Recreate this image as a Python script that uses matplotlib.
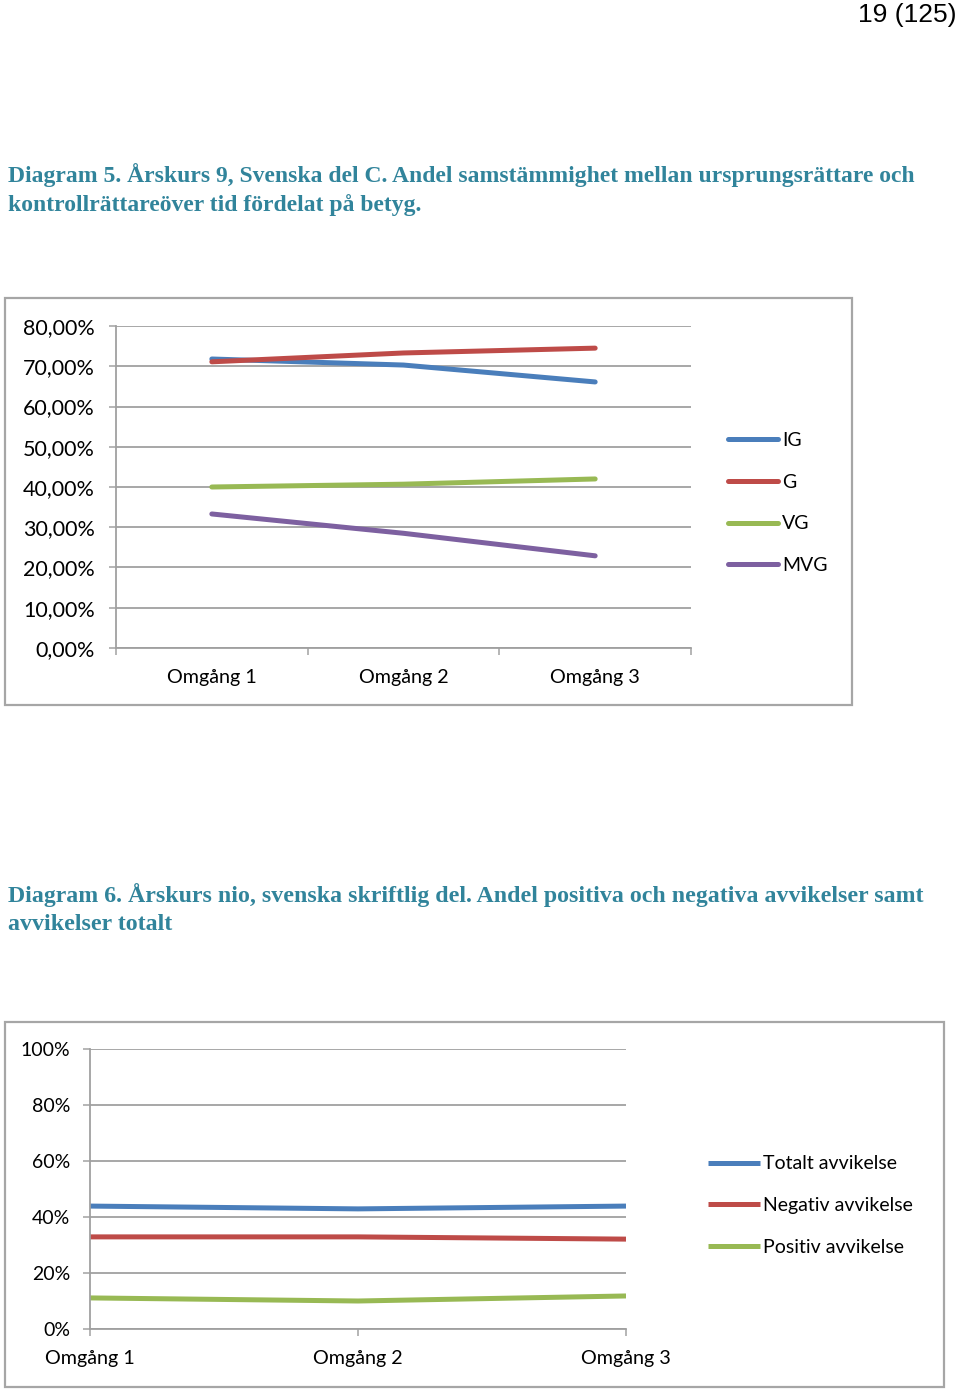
import matplotlib
matplotlib.use("Agg")
import matplotlib.pyplot as plt
from matplotlib.patches import Rectangle
from matplotlib.ticker import FuncFormatter, FixedLocator

# ---------------- data ----------------
rounds = ["Omgång 1", "Omgång 2", "Omgång 3"]

grades = ["IG", "G", "VG", "MVG"]
ig = [0.718, 0.703, 0.661]
g = [0.711, 0.733, 0.745]
vg = [0.400, 0.407, 0.420]
mvg = [0.333, 0.285, 0.229]

dev_labels = ["Totalt avvikelse", "Negativ avvikelse", "Positiv avvikelse"]
totalt = [0.439, 0.429, 0.439]
negativ = [0.329, 0.329, 0.321]
positiv = [0.111, 0.100, 0.118]

y1_ticks = [0.0, 0.1, 0.2, 0.3, 0.4, 0.5, 0.6, 0.7, 0.8]
y2_ticks = [0.0, 0.2, 0.4, 0.6, 0.8, 1.0]

title5 = ["Diagram 5. Årskurs 9, Svenska del C. Andel samstämmighet mellan ursprungsrättare och",
          "kontrollrättareöver tid fördelat på betyg."]
title6 = ["Diagram 6. Årskurs nio, svenska skriftlig del. Andel positiva och negativa avvikelser samt",
          "avvikelser totalt"]
page_no = "19 (125)"

# ---------------- style ----------------
W, H = 960, 1392
DPI = 100
PX = 72.0 / DPI  # points per pixel

plt.rcParams['font.family'] = ['Lato', 'DejaVu Sans']
colors4 = ["#4A7EBB", "#BE4B48", "#98B954", "#7D60A0"]
colors3 = ["#4A7EBB", "#BE4B48", "#98B954"]
grid_c = "#A0A0A0"
title_c = "#31849B"
lw = 5 * PX

fig = plt.figure(figsize=(W / DPI, H / DPI), dpi=DPI)


def fx(x):
    return x / W


def fy(y):
    return 1 - y / H


def box(x0, y0, x1, y1):
    r = Rectangle((fx(x0), fy(y1)), fx(x1) - fx(x0), fy(y0) - fy(y1),
                  transform=fig.transFigure, fill=False, edgecolor="#A6A6A6",
                  linewidth=2.2 * PX)
    fig.add_artist(r)


# page number
fig.text(fx(957), fy(15), page_no, ha="right", va="center",
         fontsize=19, family=["Liberation Sans", "DejaVu Sans"], color="black")

# titles
for i, line in enumerate(title5):
    fig.text(fx(8), fy(175 + 30 * i), line, ha="left", va="center",
             fontsize=17.0, fontweight="bold", color=title_c,
             family=["Liberation Serif", "DejaVu Serif"])
for i, line in enumerate(title6):
    fig.text(fx(8), fy(895 + 30 * i), line, ha="left", va="center",
             fontsize=17.2, fontweight="bold", color=title_c,
             family=["Liberation Serif", "DejaVu Serif"])

# ---------------- chart 1 ----------------
box(5, 298, 852, 705)
ax1 = fig.add_axes([fx(116), fy(648), fx(691) - fx(116), fy(326) - fy(648)])
x = list(range(len(rounds)))
series1 = [ig, g, vg, mvg]
lines1 = []
for vals, c, name in zip(series1, colors4, grades):
    ln, = ax1.plot(x, vals, color=c, lw=lw, solid_capstyle="round", label=name)
    lines1.append(ln)
ax1.set_xlim(-0.5, 2.5)
ax1.set_ylim(0, 0.8)
ax1.yaxis.set_major_locator(FixedLocator(y1_ticks))
ax1.yaxis.set_major_formatter(FuncFormatter(lambda v, p: f"{v*100:.2f}%".replace(".", ",")))
ax1.set_xticks(x)
ax1.set_xticklabels(rounds)
ax1.set_xticks([-0.5, 0.5, 1.5, 2.5], minor=True)
ax1.tick_params(axis="x", which="major", length=0, pad=21 * PX, labelsize=14.2)
ax1.tick_params(axis="x", which="minor", length=7 * PX, width=1.5 * PX, color=grid_c, direction="out")
ax1.tick_params(axis="y", length=7 * PX, width=1.5 * PX, color=grid_c, direction="out",
                pad=14 * PX, labelsize=15.5)
ax1.grid(axis="y", color=grid_c, lw=1.8 * PX)
ax1.set_axisbelow(True)
for s in ["top", "right"]:
    ax1.spines[s].set_visible(False)
for s in ["left", "bottom"]:
    ax1.spines[s].set_color(grid_c)
    ax1.spines[s].set_linewidth(1.8 * PX)

fig.legend(handles=lines1, loc="center left", bbox_to_anchor=(fx(728), fy(503)),
           frameon=False, fontsize=14, handlelength=50 / 19.4, handletextpad=4 / 19.4,
           labelspacing=1.27, borderpad=0, borderaxespad=0)

# ---------------- chart 2 ----------------
box(5, 1022, 944, 1387)
ax2 = fig.add_axes([fx(90), fy(1329), fx(626) - fx(90), fy(1049) - fy(1329)])
series2 = [totalt, negativ, positiv]
lines2 = []
for vals, c, name in zip(series2, colors3, dev_labels):
    ln, = ax2.plot(x, vals, color=c, lw=lw, solid_capstyle="butt", label=name)
    lines2.append(ln)
ax2.set_xlim(0, 2)
ax2.set_ylim(0, 1.0)
ax2.yaxis.set_major_locator(FixedLocator(y2_ticks))
ax2.yaxis.set_major_formatter(FuncFormatter(lambda v, p: f"{v*100:.0f}%"))
ax2.set_xticks(x)
ax2.set_xticklabels(rounds)
ax2.tick_params(axis="x", length=7 * PX, width=1.5 * PX, color=grid_c, direction="out",
                pad=14 * PX, labelsize=14.2)
ax2.tick_params(axis="y", length=7 * PX, width=1.5 * PX, color=grid_c, direction="out",
                pad=13 * PX, labelsize=14)
ax2.grid(axis="y", color=grid_c, lw=1.8 * PX)
ax2.set_axisbelow(True)
for s in ["top", "right"]:
    ax2.spines[s].set_visible(False)
for s in ["left", "bottom"]:
    ax2.spines[s].set_color(grid_c)
    ax2.spines[s].set_linewidth(1.8 * PX)

fig.legend(handles=lines2, loc="center left", bbox_to_anchor=(fx(708), fy(1205.5)),
           frameon=False, fontsize=14, handlelength=52 / 19.4, handletextpad=3 / 19.4,
           labelspacing=1.27, borderpad=0, borderaxespad=0)

fig.savefig("out.png", dpi=DPI, facecolor="white")
